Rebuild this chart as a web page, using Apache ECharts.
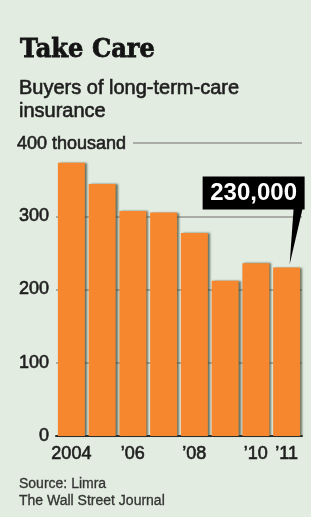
<!DOCTYPE html>
<html>
<head>
<meta charset="utf-8">
<script src="https://cdn.jsdelivr.net/npm/echarts@6/dist/echarts.min.js"></script>
<style>
  html, body { margin: 0; padding: 0; background: #e2ece0; }
  #chart { width: 311px; height: 517px; }
</style>
</head>
<body>
<div id="chart"></div>
<script>
// buyers of long-term-care insurance, thousands
const years = ['2004', '2005', '2006', '2007', '2008', '2009', '2010', '2011'];
const buyers = [373, 344, 307, 305, 277, 212, 236, 230];
const yearLabels = ['2004', '', '\u201906', '', '\u201908', '', '\u201910', '\u201911'];
const yMax = 400;
const yStep = 100;
const calloutText = '230,000';

const bg = '#e2ece0';
const ink = '#1e1e1e';
const sans = '"Liberation Sans", Arial, sans-serif';

const chart = echarts.init(document.getElementById('chart'));

// labels are a bit heavier than regular, thicken them with a thin outline
const labelStyle = {
  color: ink,
  fontFamily: sans,
  fontSize: 18,
  textBorderColor: ink,
  textBorderWidth: 0.6
};

chart.setOption({
  backgroundColor: bg,
  animation: false,
  grid: { left: 56, right: 9, top: 143, bottom: 81 },
  xAxis: {
    type: 'category',
    data: years,
    axisLine: { lineStyle: { color: '#2b2b2b', width: 2 } },
    axisTick: { show: false },
    axisLabel: Object.assign({
      interval: 0,
      margin: 9,
      formatter: (v, i) => yearLabels[i]
    }, labelStyle)
  },
  yAxis: {
    type: 'value',
    min: 0,
    max: yMax,
    interval: yStep,
    axisLine: { show: false },
    axisTick: { show: false },
    splitLine: { lineStyle: { color: '#a9ada6', width: 2 } },
    axisLabel: Object.assign({
      margin: 7,
      formatter: v => (v === yMax ? '' : String(v))
    }, labelStyle)
  },
  series: [{
    type: 'bar',
    data: buyers,
    barWidth: 27,
    itemStyle: {
      color: '#f6872e',
      shadowColor: 'rgba(50,65,50,0.7)',
      shadowOffsetX: 2,
      shadowBlur: 2
    }
  }]
});

// annotation: callout box pointing at the last bar
const last = buyers.length - 1;
const tip = chart.convertToPixel({ seriesIndex: 0 }, [last, buyers[last]]);
const tipX = tip[0] + 3;
const tipY = tip[1] - 3;
const boxRight = tipX + 15;
const boxW = 102;
const boxH = 33;
const boxBottom = tipY - 55;

chart.setOption({
  graphic: [
    {
      type: 'text', x: 20, y: 37, scaleX: 0.93,
      style: { text: 'Take Care', font: 'bold 26px "DejaVu Serif", serif', fill: '#141414', stroke: '#141414', lineWidth: 0.8 }
    },
    {
      type: 'text', x: 19, y: 77,
      style: { text: 'Buyers of long-term-care\ninsurance', font: '20px ' + sans, lineHeight: 23, fill: ink, stroke: ink, lineWidth: 0.6 }
    },
    { type: 'rect', z: 10, shape: { x: 56, y: 140, width: 77, height: 6 }, style: { fill: bg } },
    {
      type: 'text', z: 11, x: 17, y: 135,
      style: { text: '400 thousand', font: '18px ' + sans, fill: ink, stroke: ink, lineWidth: 0.6 }
    },
    {
      type: 'text', x: 19, y: 476,
      style: { text: 'Source: Limra\nThe Wall Street Journal', font: '14px ' + sans, lineHeight: 17, fill: '#333', stroke: '#333', lineWidth: 0.3 }
    },
    {
      type: 'polygon', z: 20,
      shape: { points: [[boxRight - 11, boxBottom - 1], [boxRight - 2, boxBottom - 1], [tipX, tipY]] },
      style: { fill: '#000' }
    },
    { type: 'rect', z: 20, shape: { x: boxRight - boxW, y: boxBottom - boxH, width: boxW, height: boxH }, style: { fill: '#000' } },
    {
      type: 'text', z: 21,
      x: boxRight - boxW / 2, y: boxBottom - boxH / 2,
      style: { text: calloutText, font: 'bold 24px ' + sans, fill: '#fff', align: 'center', verticalAlign: 'middle' }
    }
  ]
});
</script>
</body>
</html>
